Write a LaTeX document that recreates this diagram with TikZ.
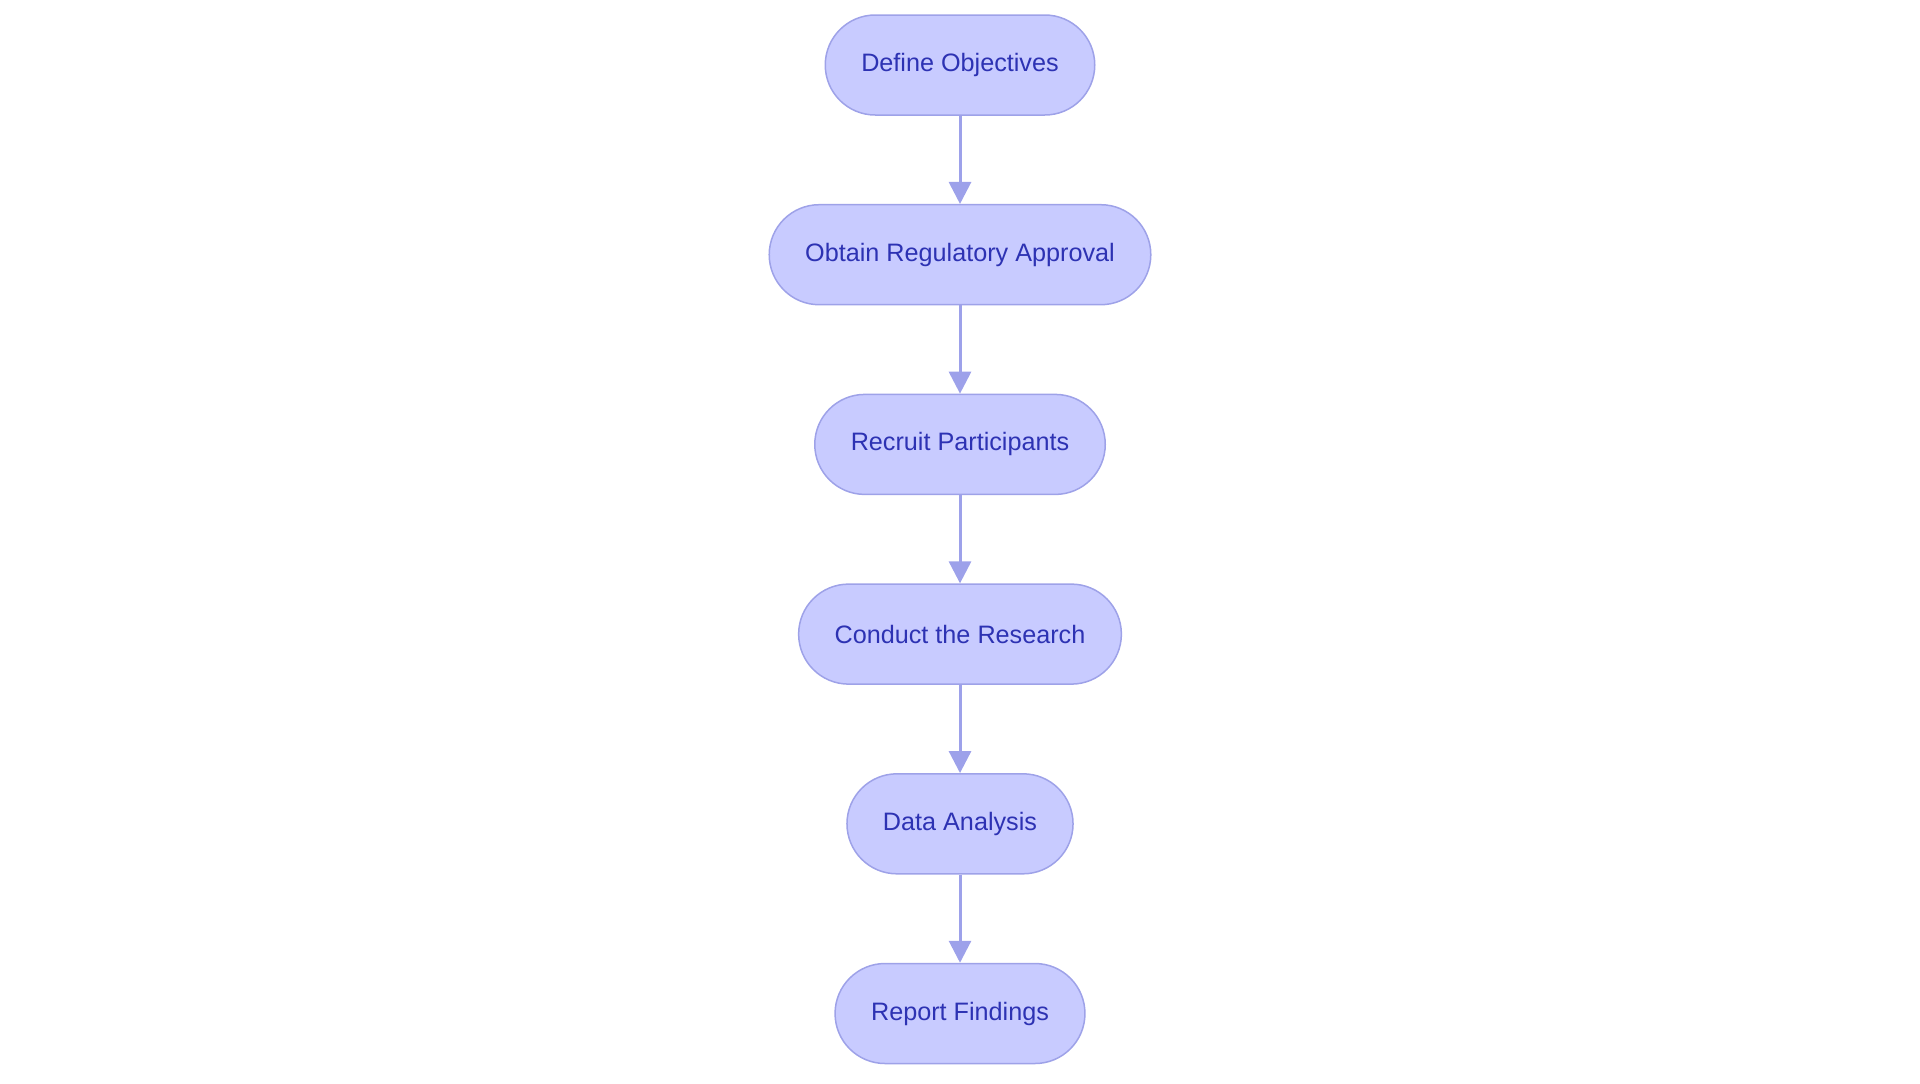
\documentclass[tikz,border=0pt]{standalone}
\usepackage{fontspec}
\setmainfont{Liberation Sans}
\usepackage{xcolor}
\usetikzlibrary{positioning,arrows.meta}
\definecolor{stepfill}{HTML}{C8CBFF}
\definecolor{stepline}{HTML}{9EA2E8}
\definecolor{steptext}{HTML}{2D32B3}
\definecolor{flowline}{HTML}{9DA1EA}
\tikzset{
stage/.style={rectangle,rounded corners=25pt,
minimum height=50pt,inner xsep=18pt,
draw=stepline,line width=0.75pt,fill=stepfill,
text=steptext,font=\fontsize{12.6}{15}\selectfont},
flow/.style={draw=flowline,line width=1.5pt,
-{Triangle[width=11pt,length=11pt]}}
}
\begin{document}
\begin{tikzpicture}[node distance=44.1pt]
\useasboundingbox (0,0) rectangle (960pt,-541.5pt);

		\node[stage] (obj) at (480pt,-32.5pt) {Define Objectives};
		\node[stage,below=of obj] (appr) {Obtain Regulatory Approval};
		\node[stage,below=of appr] (recr) {Recruit Participants};
		\node[stage,below=of recr] (cond) {Conduct the Research};
		\node[stage,below=of cond] (anal) {Data Analysis};
		\node[stage,below=of anal] (rep) {Report Findings};

		\draw[flow] (obj) -- (appr);
		\draw[flow] (appr) -- (recr);
		\draw[flow] (recr) -- (cond);
		\draw[flow] (cond) -- (anal);
		\draw[flow] (anal) -- (rep);

\end{tikzpicture}
\end{document}
